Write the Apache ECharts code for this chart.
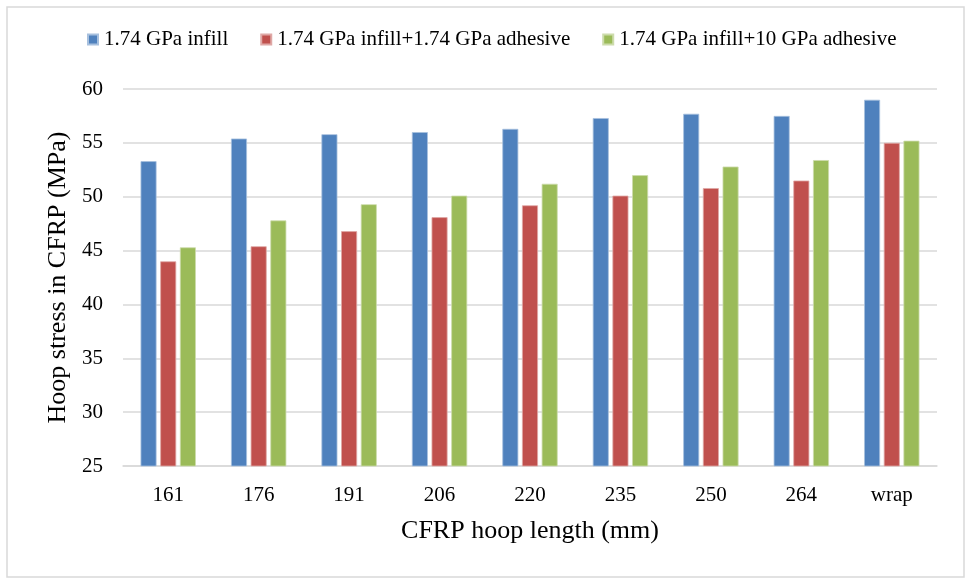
<!DOCTYPE html>
<html>
<head>
<meta charset="utf-8">
<style>
  html, body { margin: 0; padding: 0; background: #fff; }
  #chart { width: 969px; height: 580px; }
</style>
<script src="https://cdn.jsdelivr.net/npm/echarts@6/dist/echarts.min.js"></script>
</head>
<body>
<div id="chart"></div>
<script>
// Hoop lengths (mm) on the category axis
const categories = ['161', '176', '191', '206', '220', '235', '250', '264', 'wrap'];

// Hoop stress in CFRP (MPa) for each model
const infillOnly      = [53.3, 55.4, 55.8, 56.0, 56.3, 57.3, 57.7, 57.5, 59.0];
const infillAdhesive  = [44.0, 45.4, 46.8, 48.1, 49.2, 50.1, 50.8, 51.5, 55.0];
const infillStiffAdh  = [45.3, 47.8, 49.3, 50.1, 51.2, 52.0, 52.8, 53.4, 55.2];

const seriesNames = [
  '1.74 GPa infill',
  '1.74 GPa infill+1.74 GPa adhesive',
  '1.74 GPa infill+10 GPa adhesive'
];

// Y axis range and step
const yMin = 25, yMax = 60, yStep = 5;

const FONT = "'Liberation Serif', 'Times New Roman', serif";
const colors = ['#4f81bd', '#c0504d', '#9bbb59'];
const edges  = ['#a7c0de', '#dfa8a6', '#cddcac'];

const chart = echarts.init(document.getElementById('chart'), null, { renderer: 'canvas' });

function barSeries(name, data, i) {
  return {
    name: name,
    type: 'bar',
    data: data,
    barWidth: 16,
    barGap: '23%',
    itemStyle: { color: colors[i], borderColor: edges[i], borderWidth: 0.8 }
  };
}

chart.setOption({
  animation: false,
  color: colors,
  textStyle: { fontFamily: FONT, color: '#000' },
  graphic: [{
    type: 'rect',
    shape: { x: 7, y: 7, width: 957, height: 570 },
    style: { fill: 'none', stroke: '#d9d9d9', lineWidth: 1.5 },
    silent: true
  }],
  legend: {
    top: 29,
    left: 87,
    padding: 0,
    icon: 'rect',
    itemWidth: 10,
    itemHeight: 10,
    itemGap: 32,
    textStyle: { fontFamily: FONT, fontSize: 21, color: '#000', padding: [0, 0, 0, 1] },
    data: seriesNames
  },
  grid: { left: 123, right: 32, top: 89, bottom: 114, containLabel: false },
  xAxis: {
    type: 'category',
    data: categories,
    name: 'CFRP hoop length (mm)',
    nameLocation: 'middle',
    nameGap: 52,
    nameTextStyle: { fontFamily: FONT, fontSize: 26, color: '#000' },
    axisLine: { lineStyle: { color: '#d9d9d9', width: 1.5 } },
    axisTick: { show: false },
    axisLabel: { fontFamily: FONT, fontSize: 21, color: '#000', margin: 19 }
  },
  yAxis: {
    type: 'value',
    min: yMin,
    max: yMax,
    interval: yStep,
    name: 'Hoop stress in CFRP (MPa)',
    nameLocation: 'middle',
    nameGap: 52,
    nameTextStyle: { fontFamily: FONT, fontSize: 26, color: '#000' },
    axisLine: { show: false },
    axisTick: { show: false },
    axisLabel: { fontFamily: FONT, fontSize: 21, color: '#000', margin: 20 },
    splitLine: { lineStyle: { color: '#d9d9d9', width: 1.5 } }
  },
  series: [
    barSeries(seriesNames[0], infillOnly, 0),
    barSeries(seriesNames[1], infillAdhesive, 1),
    barSeries(seriesNames[2], infillStiffAdh, 2)
  ]
});
</script>
</body>
</html>
